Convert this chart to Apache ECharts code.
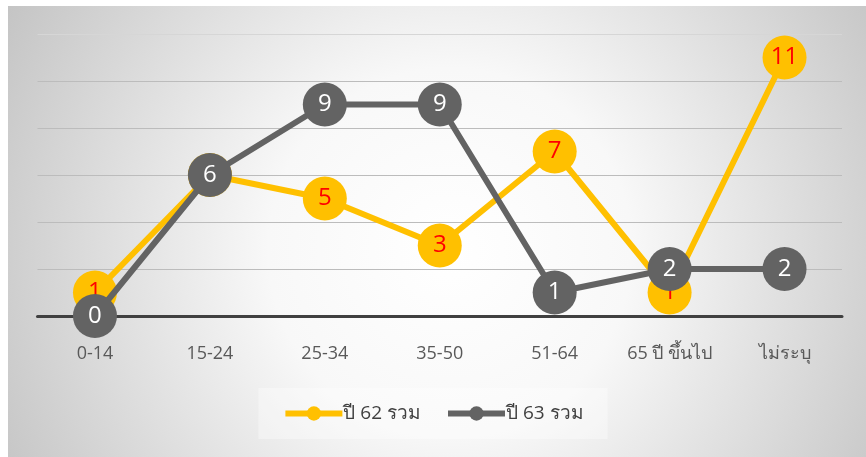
<!DOCTYPE html>
<html><head><meta charset="utf-8">
<script src="https://cdn.jsdelivr.net/npm/echarts@6/dist/echarts.min.js"></script>
<style>html,body{margin:0;padding:0;background:#fff}#c{width:866px;height:457px}</style>
</head><body><div id="c"></div>
<script>
const categories = ['0-14', '15-24', '25-34', '35-50', '51-64', '65 ปี ขึ้นไป', 'ไม่ระบุ'];
const series62 = [1, 6, 5, 3, 7, 1, 11];
const series63 = [0, 6, 9, 9, 1, 2, 2];
const seriesNames = ['ปี 62 รวม', 'ปี 63 รวม'];
const yTicks = [0, 2, 4, 6, 8, 10, 12];

const FONT = '"Open Sans", "Noto Sans", "DejaVu Sans", sans-serif';
const chart = echarts.init(document.getElementById('c'), null, {renderer: 'canvas'});
chart.setOption({
  backgroundColor: '#ffffff',
  animation: false,
  graphic: [{
    type: 'rect', z: -10, silent: true,
    shape: {x: 8, y: 6, width: 858, height: 451},
    style: {fill: {type: 'radial', x: 450, y: 250, r: 520, global: true,
      colorStops: [{offset: 0, color: '#ffffff'}, {offset: 0.35, color: '#f8f8f8'}, {offset: 1, color: '#c2c2c2'}]}}
  }],
  grid: {left: 37.5, right: 24, top: 34, bottom: 141, containLabel: false},
  legend: {
    data: seriesNames, bottom: 18, left: 'center',
    itemWidth: 57, itemHeight: 18, itemGap: 24,
    lineStyle: {width: 6},
    backgroundColor: 'rgba(255,255,255,0.35)', padding: [16, 24, 16, 24],
    textStyle: {fontSize: 19, color: '#404040', fontFamily: FONT, padding: [0, 0, 0, -4]}
  },
  xAxis: {
    type: 'category', data: categories, boundaryGap: true,
    axisLine: {lineStyle: {color: '#404040', width: 3}},
    axisTick: {show: false},
    axisLabel: {interval: 0, fontSize: 18, color: '#595959', margin: 29, fontFamily: FONT}
  },
  yAxis: {
    type: 'value', min: yTicks[0], max: yTicks[yTicks.length - 1], interval: 2,
    axisLabel: {show: false}, axisLine: {show: false}, axisTick: {show: false},
    splitLine: {lineStyle: {color: ['#bcbcbc', '#bcbcbc', '#bcbcbc', '#bcbcbc', '#bcbcbc', '#bcbcbc', '#d6d6d6'], width: 1.2}}
  },
  series: [
    {
      name: seriesNames[0], type: 'line', data: series62,
      symbol: 'circle', symbolSize: 44,
      lineStyle: {color: '#FFC000', width: 6},
      itemStyle: {color: '#FFC000'},
      label: {show: true, position: 'inside', color: '#ff0000', fontSize: 24, fontFamily: FONT},
      z: 2
    },
    {
      name: seriesNames[1], type: 'line', data: series63,
      symbol: 'circle', symbolSize: 44,
      lineStyle: {color: '#636363', width: 6},
      itemStyle: {color: '#636363'},
      label: {show: true, position: 'inside', color: '#ffffff', fontSize: 24, fontFamily: FONT},
      z: 3
    }
  ]
});
</script></body></html>
